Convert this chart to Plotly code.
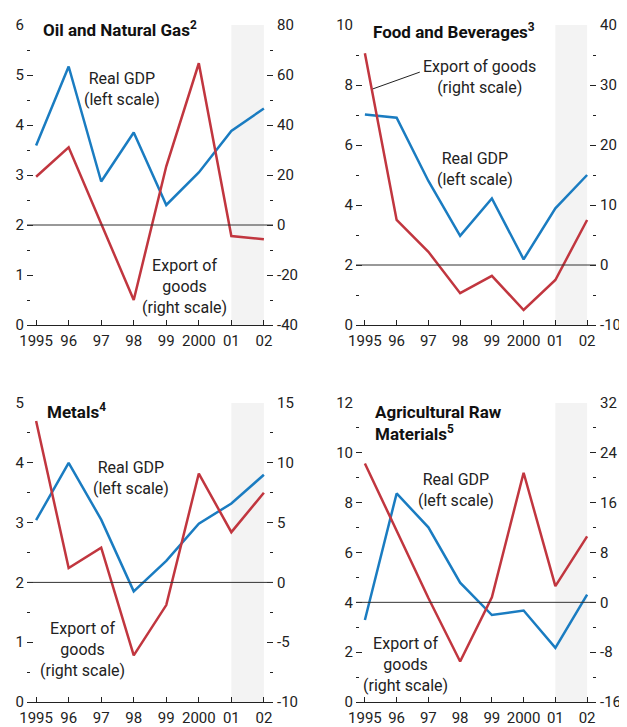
import plotly.graph_objects as go

# ---- data ----
years = [1995, 1996, 1997, 1998, 1999, 2000, 2001, 2002]
year_labels = ["1995", "96", "97", "98", "99", "2000", "01", "02"]

oil_gdp = [3.59, 5.17, 2.87, 3.85, 2.40, 3.05, 3.88, 4.33]
oil_exp = [19.3, 31.1, 0.5, -30.0, 23.5, 64.7, -4.4, -5.7]

food_gdp = [7.02, 6.91, 4.80, 2.97, 4.22, 2.19, 3.89, 5.00]
food_exp = [35.3, 7.5, 2.2, -4.7, -1.8, -7.5, -2.5, 7.5]

metals_gdp = [3.04, 4.00, 3.05, 1.85, 2.36, 2.98, 3.32, 3.80]
metals_exp = [13.5, 1.2, 2.9, -6.1, -1.9, 9.1, 4.2, 7.5]

agri_gdp = [3.29, 8.37, 7.01, 4.79, 3.49, 3.67, 2.17, 4.31]
agri_exp = [22.3, 11.5, 0.7, -9.5, 0.8, 20.8, 2.6, 10.6]

BLUE = "#1a7cc1"
RED = "#c1363f"
INK = "#222"
FONT = "Roboto, Liberation Sans, sans-serif"

# the page puts the plot 8px in from the window corner
OFF = 8
W, H = 627 - OFF, 727 - OFF


def fx(p):
    return (p - OFF) / W


def fy(p):
    return 1 - (p - OFF) / H


# panel geometry in window pixels: (left, right, top, bottom)
panels = [
    dict(title="<b>Oil and Natural Gas<sup>2</sup></b>", gdp=oil_gdp, exp=oil_exp,
         box=(27, 273, 25, 325), left=(0, 6, 1, 0.5), right=(-40, 80, 20, 10),
         tpos=(43, 29.5)),
    dict(title="<b>Food and Beverages<sup>3</sup></b>", gdp=food_gdp, exp=food_exp,
         box=(356, 596, 25, 325), left=(0, 10, 2, 1), right=(-10, 40, 10, 5),
         tpos=(373, 31.5)),
    dict(title="<b>Metals<sup>4</sup></b>", gdp=metals_gdp, exp=metals_exp,
         box=(27, 273, 403, 702), left=(0, 5, 1, 0.5), right=(-10, 15, 5, 2.5),
         tpos=(47, 411)),
    dict(title="<b>Agricultural Raw</b><br><b>Materials<sup>5</sup></b>", gdp=agri_gdp, exp=agri_exp,
         box=(356, 596, 403, 702), left=(0, 12, 2, 1), right=(-16, 32, 8, 4),
         tpos=(375, 423)),
]

fig = go.Figure()
layout = {}
shapes = []
annotations = []
tickfont = dict(family=FONT, size=15, color=INK)

for i, p in enumerate(panels):
    n = i + 1
    xa = "x" if n == 1 else f"x{n}"
    ya = "y" if n == 1 else f"y{n}"
    yr = f"y{n + 4}"
    l, r, t, b = p["box"]

    fig.add_trace(go.Scatter(x=years, y=p["gdp"], mode="lines", xaxis=xa, yaxis=ya,
                             line=dict(color=BLUE, width=2.5), showlegend=False))
    fig.add_trace(go.Scatter(x=years, y=p["exp"], mode="lines", xaxis=xa, yaxis=yr,
                             line=dict(color=RED, width=2.5), showlegend=False))

    layout[f"xaxis{'' if n == 1 else n}"] = dict(
        domain=[fx(l), fx(r)], anchor=ya, range=[1994.72, 2002.28],
        tickvals=years, ticktext=year_labels, ticks="inside", ticklen=5,
        tickcolor=INK, showline=True, linecolor=INK, linewidth=1,
        showgrid=False, zeroline=False, automargin=False, ticklabelstandoff=2,
        tickfont=tickfont,
    )
    lo, hi, dt, mdt = p["left"]
    layout[f"yaxis{'' if n == 1 else n}"] = dict(
        domain=[fy(b), fy(t)], anchor=xa, range=[lo, hi], dtick=dt,
        tick0=lo, ticks="inside", ticklen=6, tickcolor=INK,
        minor=dict(dtick=mdt, ticks="inside", ticklen=3, tickcolor=INK),
        showgrid=False, zeroline=False, showline=False, automargin=False,
        ticklabelstandoff=2, tickfont=tickfont,
    )
    lo, hi, dt, mdt = p["right"]
    rvals = list(range(lo, hi + 1, dt))
    layout[f"yaxis{n + 4}"] = dict(
        overlaying=ya, side="right", anchor=xa, range=[lo, hi],
        tickvals=rvals, ticktext=[str(v) for v in rvals],
        ticks="inside", ticklen=6, tickcolor=INK,
        minor=dict(dtick=mdt, tick0=lo, ticks="inside", ticklen=3, tickcolor=INK),
        showgrid=False, zeroline=False, showline=False, automargin=False,
        ticklabelstandoff=3, tickfont=tickfont,
    )

    # projection period shading and zero line of the right scale
    shapes.append(dict(type="rect", xref=xa, yref=f"{ya} domain", x0=2001, x1=2002,
                       y0=0, y1=1, fillcolor="#f3f3f3", line=dict(width=0), layer="below"))
    shapes.append(dict(type="line", xref=f"{xa} domain", yref=yr, x0=0, x1=1, y0=0, y1=0,
                       line=dict(color="#333", width=1)))

    tx, ty = p["tpos"]
    annotations.append(dict(xref=f"{xa} domain", yref=f"{ya} domain",
                            x=(tx - 2 - l) / (r - l), y=(b - ty) / (b - t),
                            xanchor="left", yanchor="middle", text=p["title"], showarrow=False,
                            align="left", font=dict(family=FONT, size=17, color="#111")))

# series labels (data coordinates of each panel's left scale)
labels = [
    ("x", "y", 1997.64, 4.72, "Real GDP<br>(left scale)"),
    ("x", "y", 1999.57, 0.78, "Export of<br>goods<br>(right scale)"),
    ("x2", "y2", 1998.62, 8.27, "Export of goods<br>(right scale)"),
    ("x2", "y2", 1998.46, 5.20, "Real GDP<br>(left scale)"),
    ("x3", "y3", 1997.92, 3.75, "Real GDP<br>(left scale)"),
    ("x3", "y3", 1996.43, 0.87, "Export of<br>goods<br>(right scale)"),
    ("x4", "y4", 1997.87, 8.51, "Real GDP<br>(left scale)"),
    ("x4", "y4", 1996.28, 1.52, "Export of<br>goods<br>(right scale)"),
]
for xa, ya, x, y, txt in labels:
    annotations.append(dict(xref=xa, yref=ya, x=x, y=y, text=txt, showarrow=False,
                            align="center", font=dict(family=FONT, size=16, color=INK)))

# leader line in the food panel
shapes.append(dict(type="line", xref="x2", yref="y2", x0=1995.25, y0=7.87, x1=1996.73, y1=8.43,
                   line=dict(color=INK, width=1)))

fig.update_layout(
    **layout,
    shapes=shapes,
    annotations=annotations,
    width=W, height=H,
    margin=dict(l=0, r=0, t=0, b=0),
    paper_bgcolor="white", plot_bgcolor="white",
    font=dict(family=FONT, size=16, color=INK),
)

fig.write_html("out.html")
